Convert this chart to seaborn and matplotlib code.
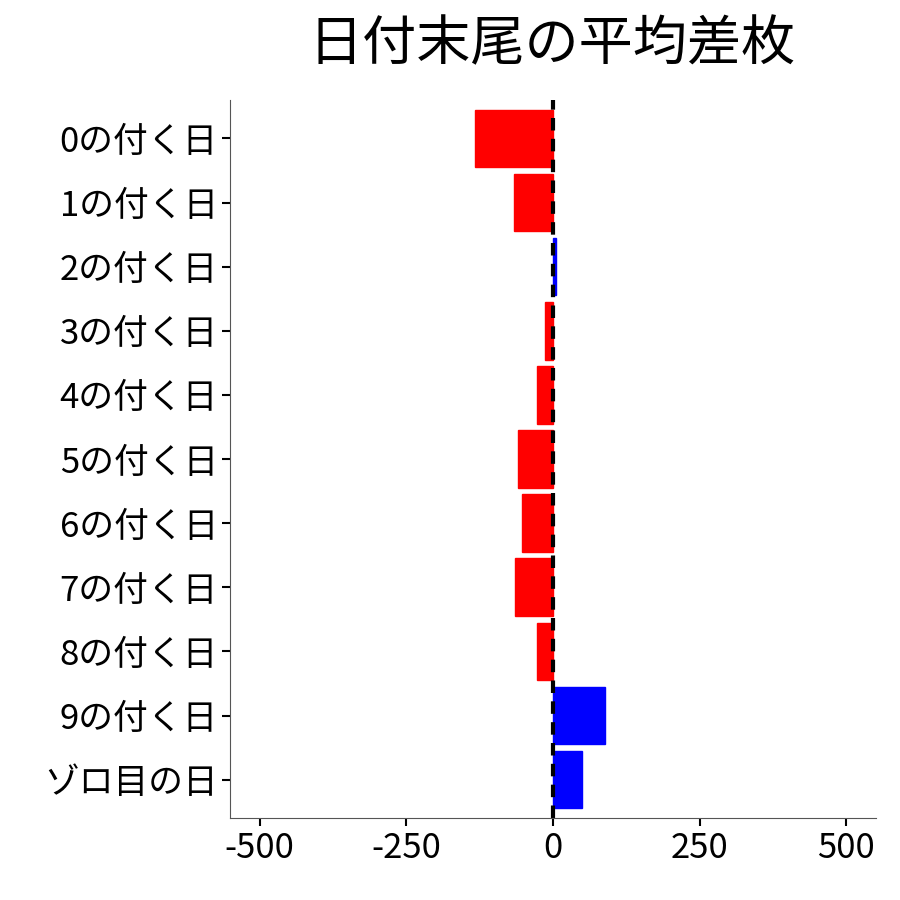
import matplotlib
matplotlib.use("Agg")
import matplotlib.pyplot as plt
import seaborn as sns
import pandas as pd

categories = ["0の付く日","1の付く日","2の付く日","3の付く日","4の付く日","5の付く日",
              "6の付く日","7の付く日","8の付く日","9の付く日","ゾロ目の日"]
values = [-133, -66, 5, -14, -27, -60, -53, -65, -27, 88, 49]
title = "日付末尾の平均差枚"
xticks = [-500, -250, 0, 250, 500]

sns.set_style("white")
plt.rcParams['font.family'] = ['Noto Sans CJK JP', 'DejaVu Sans']

df = pd.DataFrame({"cat": categories, "val": values})
df["sign"] = ["neg" if v < 0 else "pos" for v in values]

fig = plt.figure(figsize=(9, 9), dpi=100)
ax = fig.add_axes([0.256, 0.091, 0.717, 0.798])
sns.barplot(data=df, y="cat", x="val", hue="sign", palette={"neg": "red", "pos": "blue"},
            order=categories, orient="h", width=0.9, legend=False, ax=ax, saturation=1)
for p, v in zip(ax.patches, values):
    pass
for p in ax.patches:
    p.set_edgecolor(p.get_facecolor())
    p.set_linewidth(1)
ax.axvline(0, color="black", linestyle=(0, (3, 2)), linewidth=3)
ax.set_xlim(-550, 550)
ax.set_ylim(10.6, -0.6)
ax.set_xticks(xticks)
ax.set_xticklabels([str(t) for t in xticks])
ax.set_xlabel("")
ax.set_ylabel("")
ax.tick_params(axis="both", labelsize=25, length=6, width=1.5, colors="black", direction="out",
               bottom=True, left=True, pad=3)
for s in ["top", "right"]:
    ax.spines[s].set_visible(False)
for s in ["left", "bottom"]:
    ax.spines[s].set_color("#555555")
fig.text(0.613, 0.95, title, fontsize=39, color="black", ha="center", va="center")
fig.savefig("out.png", dpi=100)
